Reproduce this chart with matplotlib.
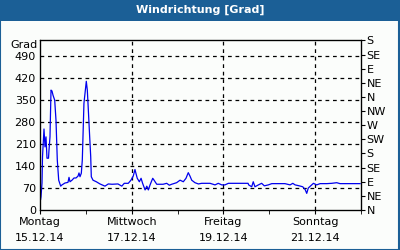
import numpy as np
import matplotlib
matplotlib.use("Agg")
import matplotlib.pyplot as plt
from matplotlib.patches import Rectangle

# Stunden seit 15.12.14 00:00 und Windrichtung in Grad
stunden = [0, 0.26, 0.52, 1.05, 1.31, 2.09, 2.62, 3.14, 3.66, 4.45, 4.71, 5.23,
           5.76, 6.28, 6.8, 7.69, 8.37, 9.05, 9.79, 10.83, 11.51, 13.08, 14.65,
           15.18, 15.7, 16.75, 17.8, 18.84, 19.89, 20.41, 20.93, 21.62, 22.14,
           23.0, 24.23, 24.76, 25.12, 26.0, 26.54, 26.85, 27.74, 29.47, 31.4,
           34.0, 35.75, 37.7, 40.8, 42.8, 44.1, 46.2, 47.6, 48.8, 49.7, 50.2,
           50.9, 52.0, 52.9, 53.7, 55.0, 55.9, 56.7, 57.6, 59.0, 59.7, 61.1,
           64.4, 66.3, 67.7, 68.9, 71.5, 73.3, 75.0, 76.4, 77.6, 78.5, 79.4,
           81.1, 82.9, 84.6, 89.0, 91.6, 93.3, 95.1, 96.8, 98.6, 108.9, 109.2,
           110.8, 111.6, 112.5, 114.3, 116.0, 117.4, 119.5, 121.3, 128.2,
           130.9, 132.3, 133.5, 135.7, 137.5, 138.7, 139.6, 140.4, 142.2,
           143.1, 144.8, 146.6, 150.1, 152.7, 155.3, 157.0, 167.5]
grad = [40, 32, 42, 86, 170, 258, 201, 233, 165, 165, 191, 233,
        382, 379, 366, 350, 286, 159, 95, 76, 80, 86, 88,
        104, 90, 95, 102, 102, 108, 118, 106, 117, 159,
        340, 410, 382, 340, 233, 170, 106, 95, 90, 83,
        76, 83, 82, 83, 76, 85, 85, 95, 108, 129, 117,
        101, 90, 101, 85, 64, 76, 64, 80, 101, 95, 82,
        82, 85, 79, 82, 87, 95, 90, 101, 119, 108, 95,
        87, 83, 85, 85, 80, 85, 80, 80, 85, 85, 80,
        74, 90, 74, 80, 85, 77, 80, 84, 84,
        80, 85, 80, 77, 74, 66, 53, 70, 80,
        85, 80, 84, 84, 85, 87, 84, 84]

y_ticks = [0, 70, 140, 210, 280, 350, 420, 490]
richtungen = ["N", "NE", "E", "SE", "S", "SW", "W", "NW", "N", "NE", "E", "SE", "S"]
tag_pos = [0, 48, 96, 144]
tag_labels = ["Montag\n15.12.14", "Mittwoch\n17.12.14", "Freitag\n19.12.14", "Sonntag\n21.12.14"]

blau = "#1b5f96"
fs = 8

fig = plt.figure(figsize=(4, 2.5), dpi=100)
fig.patch.set_facecolor("#fbfdfb")

# Titelbalken und Rahmen
fig.patches.append(Rectangle((0, 0.918), 1, 0.082, transform=fig.transFigure,
                             facecolor=blau, edgecolor="none", zorder=0))
fig.patches.append(Rectangle((0.001, 0.002), 0.997, 0.996, transform=fig.transFigure,
                             facecolor="none", edgecolor=blau, lw=1.5, zorder=1))
fig.text(0.5, 0.959, "Windrichtung [Grad]", color="white", fontsize=8,
         fontweight="bold", ha="center", va="center")

ax = fig.add_axes([0.1, 0.16, 0.8025, 0.678])
ax.set_facecolor("#fbfdfb")
ax.plot(stunden, grad, color="#0000ee", lw=0.9)

ax.set_xlim(0, 168)
ax.set_ylim(0, 540)
ax.set_yticks(y_ticks)
ax.set_yticklabels([str(v) for v in y_ticks], fontsize=fs)
ax.tick_params(axis="y", length=0, pad=3)
ax.set_xticks(tag_pos)
ax.set_xticklabels(tag_labels, fontsize=fs, linespacing=1.7)
ax.set_xticks(np.arange(0, 169, 24), minor=True)
ax.tick_params(axis="x", which="both", length=3, direction="out", pad=2)

for v in y_ticks[1:]:
    ax.axhline(v, color="black", lw=0.9, ls=(0, (3, 3)), zorder=0)
for t in tag_pos[1:]:
    ax.axvline(t, color="black", lw=0.9, ls=(0, (3, 3)), zorder=0)

for s in ax.spines.values():
    s.set_linewidth(0.9)

ax2 = ax.twinx()
ax2.set_ylim(0, 540)
ax2.set_yticks(np.arange(0, 541, 45))
ax2.set_yticklabels(richtungen, fontsize=fs)
ax2.tick_params(axis="y", length=3, direction="out", pad=1)

fig.text(0.093, 0.82, "Grad", fontsize=fs, ha="right", va="center")

fig.savefig("out.png", dpi=100, facecolor=fig.get_facecolor())
